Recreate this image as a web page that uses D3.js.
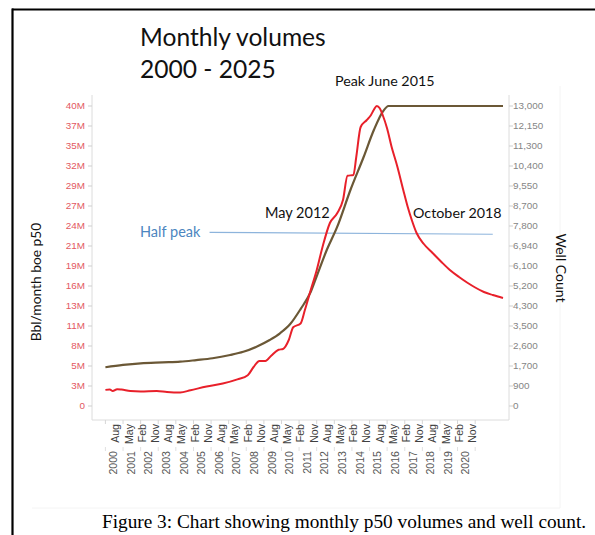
<!DOCTYPE html>
<html>
<head>
<meta charset="utf-8">
<script src="https://cdn.jsdelivr.net/npm/d3@7"></script>
<style>
  html, body { margin: 0; padding: 0; background: #fff; }
  svg { display: block; }
</style>
</head>
<body>
<svg id="chart" width="595" height="535"></svg>
<script>
// Monthly p50 volume (Bbl/month boe), millions
const volumeDates = ["2000-01","2000-04","2000-06","2000-09","2000-12","2001-06","2002-01","2002-12","2003-07","2004-04","2004-11",
  "2005-10","2006-09","2007-07","2008-02","2008-06","2008-10","2009-02","2009-06","2009-11","2010-02","2010-06","2010-09",
  "2011-02","2011-05","2011-09","2012-01","2012-05","2012-10","2013-03","2013-07","2013-10","2014-02","2014-04","2014-07",
  "2014-11","2015-02","2015-04","2015-06","2015-08","2015-10","2016-01","2016-04","2016-08","2016-12","2017-03","2017-06",
  "2017-09","2018-02","2018-08","2019-02","2019-08","2020-02","2020-08","2021-01","2021-07","2022-01","2022-08"];
const volumeValues = [2.15,2.2,2.0,2.25,2.2,2.0,1.95,2.0,1.87,1.8,2.1,
  2.6,3.0,3.55,4.1,5.2,6.0,6.0,6.7,7.5,7.6,8.8,10.5,
  11.0,12.8,15.5,18.1,21.2,24.4,25.7,27.5,30.7,30.8,33.2,37.2,
  38.1,38.8,39.5,40.0,39.7,38.8,37.0,34.6,31.9,28.8,26.6,24.7,
  23.1,21.6,20.4,19.2,18.1,17.2,16.4,15.8,15.2,14.8,14.4];

// Cumulative well count
const wellDates = ["2000-01","2001-01","2002-01","2003-04","2004-04","2005-03","2006-02","2007-02","2007-11","2008-08",
  "2009-05","2009-12","2010-07","2011-02","2011-09","2012-01","2012-08","2013-03","2013-12","2014-09","2015-04",
  "2015-10","2016-02","2022-08"];
const wellValues = [1680,1780,1850,1890,1920,1990,2070,2210,2350,2570,
  2860,3150,3550,4200,4950,5620,6780,7760,9360,10790,11960,
  12750,13000,13000];

// Half-peak reference line (left axis, millions)
const halfPeakDates = ["2005-12","2022-01"];
const halfPeakValues = [23.15,22.9];

// Axis tick labels
const leftTickLabels = ["0","3M","5M","8M","11M","13M","16M","19M","21M","24M","27M","29M","32M","35M","37M","40M"];
const rightTickLabels = ["0","900","1,700","2,600","3,500","4,300","5,200","6,100","6,940","7,800","8,700","9,550","10,400","11,300","12,150","13,000"];
const monthNames = ["Jan","Feb","Mar","Apr","May","Jun","Jul","Aug","Sep","Oct","Nov","Dec"];
const monthTickDates = ["2000-08","2001-05","2002-02","2002-11","2003-08","2004-05","2005-02","2005-11","2006-08","2007-05",
  "2008-02","2008-11","2009-08","2010-05","2011-02","2011-11","2012-08","2013-05","2014-02","2014-11","2015-08","2016-05",
  "2017-02","2017-11","2018-08","2019-05","2020-02","2020-11"];
const yearLabels = d3.range(2000, 2021);

const parse = d3.timeParse("%Y-%m");
const svg = d3.select("#chart");

const plot = { left: 92, right: 509, top: 95, bottom: 420 };
const x = d3.scaleTime().domain([parse("2000-01"), parse("2022-08")]).range([105.4, 503]);
const yL = d3.scaleLinear().domain([0, 40]).range([406, 106]);
const yR = d3.scaleLinear().domain([0, 13000]).range([406, 106]);

// page frame
svg.append("line").attr("x1", 12).attr("x2", 595).attr("y1", 9.5).attr("y2", 9.5)
  .attr("stroke", "#000").attr("stroke-width", 2.2);
svg.append("line").attr("x1", 12.5).attr("x2", 12.5).attr("y1", 8.5).attr("y2", 535)
  .attr("stroke", "#000").attr("stroke-width", 2.2);

// faint pane outline
svg.append("path").attr("d", "M560,86 V508 H32")
  .attr("fill", "none").attr("stroke", "#f4f4f4").attr("stroke-width", 1);

// axes lines
const axisColor = "#dcdcdc";
svg.append("line").attr("x1", plot.left).attr("x2", plot.left).attr("y1", plot.top).attr("y2", plot.bottom)
  .attr("stroke", axisColor);
svg.append("line").attr("x1", plot.right).attr("x2", plot.right).attr("y1", plot.top).attr("y2", plot.bottom)
  .attr("stroke", axisColor);
svg.append("line").attr("x1", plot.left).attr("x2", plot.right).attr("y1", plot.bottom).attr("y2", plot.bottom)
  .attr("stroke", axisColor);

const tickFont = "Liberation Sans, Arial, sans-serif";
const tickVals = d3.range(16);
// left axis
const gL = svg.append("g").attr("font-family", tickFont).attr("font-size", 9.9);
tickVals.forEach(i => {
  const v = i * 40 / 15;
  gL.append("line").attr("x1", plot.left - 4).attr("x2", plot.left).attr("y1", yL(v)).attr("y2", yL(v))
    .attr("stroke", "#cfcfcf");
  gL.append("text").attr("x", plot.left - 7).attr("y", yL(v)).attr("dy", "0.35em")
    .attr("text-anchor", "end").attr("fill", "#e35862").text(leftTickLabels[i]);
});
// right axis
const gR = svg.append("g").attr("font-family", tickFont).attr("font-size", 9.9);
tickVals.forEach(i => {
  const v = i * 13000 / 15;
  gR.append("line").attr("x1", plot.right).attr("x2", plot.right + 4).attr("y1", yR(v)).attr("y2", yR(v))
    .attr("stroke", "#cfcfcf");
  gR.append("text").attr("x", plot.right + 4).attr("y", yR(v)).attr("dy", "0.35em")
    .attr("text-anchor", "start").attr("fill", "#858585").text(rightTickLabels[i]);
});

// bottom axis: month row and year row
const gX = svg.append("g").attr("font-family", tickFont).attr("font-size", 10.6);
monthTickDates.forEach(s => {
  const d = parse(s);
  const px = x(d);
  gX.append("text").attr("transform", `translate(${px + 3.8},424) rotate(-90)`)
    .attr("text-anchor", "end").attr("fill", "#404040").text(monthNames[d.getMonth()]);
});
yearLabels.forEach(yr => {
  const px = x(new Date(yr, 5, 15));
  gX.append("text").attr("transform", `translate(${px + 3.8},451) rotate(-90)`)
    .attr("text-anchor", "end").attr("fill", "#555").text(yr);
});
d3.range(2000, 2022).forEach(yr => {
  const px = x(new Date(yr, 0, 1));
  gX.append("line").attr("x1", px).attr("x2", px).attr("y1", plot.bottom).attr("y2", plot.bottom + 4)
    .attr("stroke", "#d6d6d6");
  gX.append("line").attr("x1", px).attr("x2", px).attr("y1", 447).attr("y2", 451)
    .attr("stroke", "#e0e0e0");
});

// half peak reference line
const halfData = halfPeakDates.map((s, i) => ({ d: parse(s), v: halfPeakValues[i] }));
svg.append("path").datum(halfData)
  .attr("d", d3.line().x(p => x(p.d)).y(p => yL(p.v)))
  .attr("fill", "none").attr("stroke", "#8db4dc").attr("stroke-width", 1.2);

// well count line
const wellData = wellDates.map((s, i) => ({ d: parse(s), v: wellValues[i] }));
svg.append("path").datum(wellData)
  .attr("d", d3.line().curve(d3.curveMonotoneX).x(p => x(p.d)).y(p => yR(p.v)))
  .attr("fill", "none").attr("stroke", "#6b5836").attr("stroke-width", 2.2)
  .attr("stroke-linejoin", "round");

// volume line
const volData = volumeDates.map((s, i) => ({ d: parse(s), v: volumeValues[i] }));
svg.append("path").datum(volData)
  .attr("d", d3.line().curve(d3.curveMonotoneX).x(p => x(p.d)).y(p => yL(p.v)))
  .attr("fill", "none").attr("stroke", "#e8202a").attr("stroke-width", 2)
  .attr("stroke-linejoin", "round");

// titles and annotations
const sans = "Lato, 'Open Sans', sans-serif";
svg.append("text").attr("x", 140).attr("y", 46).attr("font-family", sans).attr("font-size", 24.6)
  .attr("fill", "#111").text("Monthly volumes");
svg.append("text").attr("x", 140).attr("y", 78).attr("font-family", sans).attr("font-size", 24.6)
  .attr("fill", "#111").text("2000 - 2025");
svg.append("text").attr("x", 335).attr("y", 86).attr("font-family", sans).attr("font-size", 14.3)
  .attr("fill", "#111").text("Peak June 2015");
svg.append("text").attr("x", 265).attr("y", 218).attr("font-family", sans).attr("font-size", 14.5)
  .attr("fill", "#111").text("May 2012");
svg.append("text").attr("x", 413).attr("y", 218).attr("font-family", sans).attr("font-size", 14.3)
  .attr("fill", "#111").text("October 2018");
svg.append("text").attr("x", 140).attr("y", 237).attr("font-family", sans).attr("font-size", 14.5)
  .attr("fill", "#4d86c0").text("Half peak");

// axis titles
svg.append("text").attr("transform", "translate(41,282) rotate(-90)").attr("text-anchor", "middle")
  .attr("font-family", sans).attr("font-size", 13.8).attr("fill", "#111").text("Bbl/month boe p50");
svg.append("text").attr("transform", "translate(556,268) rotate(90)").attr("text-anchor", "middle")
  .attr("font-family", sans).attr("font-size", 14).attr("fill", "#111").text("Well Count");

// caption
svg.append("text").attr("x", 344).attr("y", 528).attr("text-anchor", "middle")
  .attr("font-family", "'Liberation Serif', 'Times New Roman', serif").attr("font-size", 19.3)
  .attr("fill", "#000").text("Figure 3: Chart showing monthly p50 volumes and well count.");
</script>
</body>
</html>
